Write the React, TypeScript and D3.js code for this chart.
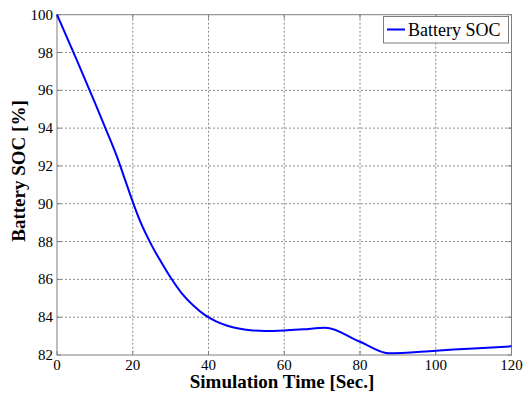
import React from "react";
import * as d3 from "d3";

const timeSec = [0, 5, 10, 13, 16, 18, 20, 22, 25, 28, 30, 33, 36, 39, 42, 45, 48, 51, 55, 60, 65, 70.8, 80, 87.5, 100, 110, 120];
const socPct = [100, 97.7, 95.35, 93.9, 92.4, 91.25, 90.1, 89.05, 87.8, 86.75, 86.1, 85.25, 84.62, 84.12, 83.78, 83.55, 83.4, 83.31, 83.27, 83.3, 83.36, 83.44, 82.7, 82.09, 82.23, 82.35, 82.46];
const xTicks = [0, 20, 40, 60, 80, 100, 120];
const yTicks = [82, 84, 86, 88, 90, 92, 94, 96, 98, 100];
const seriesName = "Battery SOC";
const xLabel = "Simulation Time [Sec.]";
const yLabel = "Battery SOC [%]";

const W = 523, H = 393;
const L = 57, R = 511.5, T = 14.7, B = 355;
const font = "Liberation Serif, Times New Roman, Times, serif";

export default function App() {
  const x = d3.scaleLinear().domain([0, 120]).range([L, R]);
  const y = d3.scaleLinear().domain([82, 100]).range([B, T]);
  const data = timeSec.map((t, i) => [t, socPct[i]] as [number, number]);
  const line = d3.line<[number, number]>().x(d => x(d[0])).y(d => y(d[1])).curve(d3.curveMonotoneX);
  const axisColor = "#7f7f7f";
  const tf = { fontFamily: font, fontSize: 15 } as React.CSSProperties;
  return (
    <svg width={W} height={H} style={{ position: "absolute", left: 0, top: 0, background: "#fff" }}>
      <rect x={0} y={0} width={W} height={H} fill="#fff" />
      {xTicks.slice(1, -1).map(t => (
        <line key={"gx" + t} x1={x(t)} x2={x(t)} y1={T} y2={B} stroke="#8a8a8a" strokeWidth={1} strokeDasharray="2,2" />
      ))}
      {yTicks.slice(1, -1).map(t => (
        <line key={"gy" + t} x1={L} x2={R} y1={y(t)} y2={y(t)} stroke="#8a8a8a" strokeWidth={1} strokeDasharray="2,2" />
      ))}
      {xTicks.map(t => (
        <g key={"tx" + t}>
          <line x1={x(t)} x2={x(t)} y1={B} y2={B - 4} stroke={axisColor} />
          <line x1={x(t)} x2={x(t)} y1={T} y2={T + 4} stroke={axisColor} />
          <text x={x(t)} y={369.5} textAnchor="middle" style={tf} fill="#000">{t}</text>
        </g>
      ))}
      {yTicks.map(t => (
        <g key={"ty" + t}>
          <line x1={L} x2={L + 4} y1={y(t)} y2={y(t)} stroke={axisColor} />
          <line x1={R} x2={R - 4} y1={y(t)} y2={y(t)} stroke={axisColor} />
          <text x={53} y={y(t) + 5} textAnchor="end" style={tf} fill="#000">{t}</text>
        </g>
      ))}
      <rect x={L} y={T} width={R - L} height={B - T} fill="none" stroke={axisColor} strokeWidth={1} />
      <path d={line(data) || ""} fill="none" stroke="#0000ff" strokeWidth={2} />
      <g>
        <rect x={383.5} y={16.5} width={125} height={26.5} fill="#fff" stroke={axisColor} strokeWidth={1} />
        <line x1={387} x2={405} y1={29.5} y2={29.5} stroke="#0000ff" strokeWidth={2} />
        <text x={408} y={36} style={{ fontFamily: font, fontSize: 18 }} fill="#000">{seriesName}</text>
      </g>
      <text x={282} y={387.5} textAnchor="middle" style={{ fontFamily: font, fontSize: 19, fontWeight: "bold" }} fill="#000">{xLabel}</text>
      <text transform={`translate(25,171) rotate(-90)`} textAnchor="middle" style={{ fontFamily: font, fontSize: 19, fontWeight: "bold" }} fill="#000">{yLabel}</text>
    </svg>
  );
}
